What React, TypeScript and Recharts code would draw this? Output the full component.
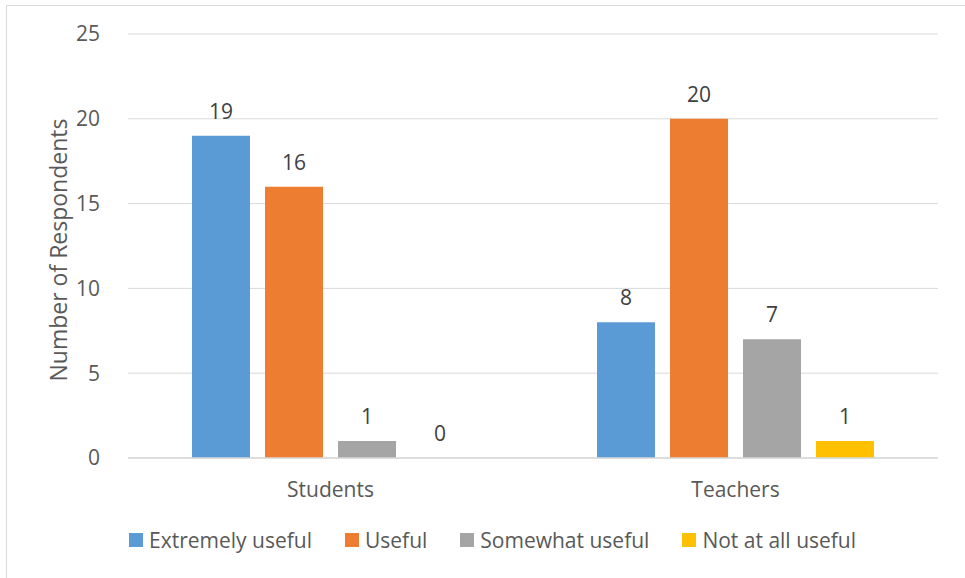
import React from 'react';
import { BarChart, Bar, XAxis, YAxis, CartesianGrid, Legend } from 'recharts';

const categories = ['Students', 'Teachers'];
const extremelyUseful = [19, 8];
const useful = [16, 20];
const somewhatUseful = [1, 7];
const notAtAllUseful = [0, 1];
const yTicks = [0, 5, 10, 15, 20, 25];

const seriesNames = ['Extremely useful', 'Useful', 'Somewhat useful', 'Not at all useful'];
const seriesColors = ['#5b9bd5', '#ed7d31', '#a5a5a5', '#ffc000'];

const data = categories.map((c, i) => ({
  name: c,
  s0: extremelyUseful[i],
  s1: useful[i],
  s2: somewhatUseful[i],
  s3: notAtAllUseful[i],
}));

const FONT = 'Open Sans, Noto Sans, sans-serif';
const FS = 21;

const renderLegend = () => (
  <div style={{ display: 'flex', justifyContent: 'flex-start', alignItems: 'center', height: 24, paddingLeft: 129, fontFamily: FONT, fontSize: FS, color: '#595959' }}>
    {seriesNames.map((n, i) => (
      <div key={n} style={{ display: 'flex', alignItems: 'center', marginRight: 33 }}>
        <span style={{ width: 14, height: 14, background: seriesColors[i], display: 'inline-block', marginRight: 6 }} />
        <span>{n}</span>
      </div>
    ))}
  </div>
);

const renderValueLabel = (props: any) => {
  const { x, y, width, value } = props;
  return (
    <text x={x + width / 2} y={y - 17} textAnchor="middle" fill="#404040" fontSize={FS} fontFamily={FONT}>
      {value}
    </text>
  );
};

const renderAxisTitle = (props: any) => {
  const vb = props.viewBox || {};
  const cx = 58;
  const cy = (vb.y ?? 34) + (vb.height ?? 424) / 2 + 4;
  return (
    <text x={cx} y={cy} transform={`rotate(-90, ${cx}, ${cy})`} textAnchor="middle" dominantBaseline="central" fill="#595959" fontSize={23} fontFamily={FONT}>
      Number of Respondents
    </text>
  );
};

export default function App() {
  return (
    <div style={{ position: 'absolute', left: 0, top: 0, width: 965, height: 578, background: '#fff' }}>
      <div style={{ position: 'absolute', left: 6, top: 5, width: 970, height: 590, border: '1px solid #d9d9d9' }} />
      <BarChart
        width={965}
        height={578}
        data={data}
        margin={{ top: 34, right: 27, bottom: 26, left: 40 }}
        barGap={15}
        barCategoryGap={64}
      >
        <CartesianGrid vertical={false} stroke="#d9d9d9" strokeWidth={1} />
        <XAxis
          dataKey="name"
          axisLine={{ stroke: '#d9d9d9', strokeWidth: 1.5 }}
          tickLine={false}
          tick={{ fill: '#595959', fontSize: FS, fontFamily: FONT }}
          tickMargin={18}
          height={70}
        />
        <YAxis
          domain={[0, 25]}
          ticks={yTicks}
          axisLine={false}
          tickLine={false}
          width={88}
          tick={{ fill: '#595959', fontSize: FS, fontFamily: FONT }}
          tickMargin={22}
          label={{ content: renderAxisTitle }}
        />
        <Legend verticalAlign="bottom" content={renderLegend} wrapperStyle={{ left: 0, width: 965 }} />
        {['s0', 's1', 's2', 's3'].map((k, i) => (
          <Bar key={k} dataKey={k} name={seriesNames[i]} fill={seriesColors[i]} isAnimationActive={false} minPointSize={0.01} label={renderValueLabel} />
        ))}
      </BarChart>
    </div>
  );
}
